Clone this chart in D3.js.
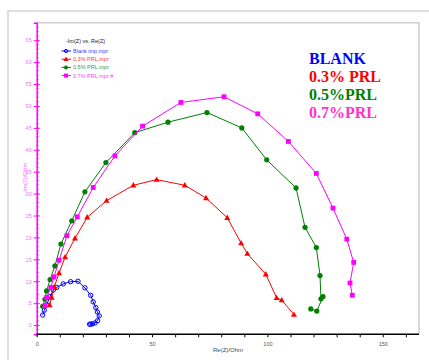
<!DOCTYPE html>
<html><head><meta charset="utf-8">
<script src="https://cdn.jsdelivr.net/npm/d3@7"></script>
<style>body{margin:0;background:#fff}svg{display:block}</style>
</head><body>
<script>
const blankX = [2.6,3.3,4.3,5.8,7.2,8.7,11.5,14.7,17.9,20.9,23.4,24.5,25.6,26.3,27.1,26.4,25.3,24.2,23.4,22.9];
const blankY = [2.3,3.4,4.6,6.5,8.0,8.6,9.4,9.9,10.0,8.5,6.8,5.3,4.0,3.0,2.1,1.0,0.5,0.3,0.2,0.2];
const prl3X = [5.6,6.5,7.6,9.7,12.3,16.6,21.9,30.3,41.9,52.0,64.2,73.4,82.6,88.6,91.3,99.3,104.0,106.2,111.5];
const prl3Y = [4.6,6.3,8.7,11.9,15.5,19.8,24.6,28.4,31.9,33.2,31.9,29.0,24.5,18.7,16.3,11.6,6.2,5.7,2.4];
const prl5X = [2.6,3.6,4.3,5.8,7.9,10.5,15.2,20.9,30.0,42.5,56.9,73.8,88.9,99.7,112.4,116.3,121.2,122.8,123.2,124.1,121.4,118.8];
const prl5Y = [4.3,5.9,7.8,10.4,13.5,18.5,23.8,30.4,37.1,43.9,46.3,48.5,45.0,37.7,31.3,22.3,17.7,11.3,6.0,6.5,3.2,3.7];
const prl7X = [3.6,4.3,6.1,7.5,9.7,13.1,17.6,24.5,33.9,45.9,62.5,81.2,95.8,109.1,121.2,128.4,134.4,137.4,135.8,136.8];
const prl7Y = [4.4,6.3,8.6,11.0,14.8,20.4,24.7,31.4,38.6,45.4,50.8,52.1,48.2,41.9,34.6,26.7,19.6,14.3,9.6,6.8];
const seriesNames = ["Blank imp.mpr","0.3% PRL.mpr","0.5% PRL.mpr","0.7% PRL.mpr #"];
const bigLabels = ["BLANK","0.3% PRL","0.5%PRL","0.7%PRL"];
const xTickLabels = [0,50,100,150];
const yTickLabels = [0,5,10,15,20,25,30,35,40,45,50,55,60,65];

const W=429,H=360;
const svg=d3.select("body").append("svg").attr("width",W).attr("height",H);
// outer frame
svg.append("path").attr("d","M8,360 V11 H429").attr("fill","none").attr("stroke","#d4d4d4").attr("stroke-width",1.5);
const L=36.7,R=419,T=22.7,B=334.3;
svg.append("path").attr("d",`M${L},${T} H${R} V${B}`).attr("fill","none").attr("stroke","#cfcfcf").attr("stroke-width",1.5);

const x=d3.scaleLinear().domain([0,165.7]).range([L,R]);
const y=d3.scaleLinear().domain([-2.1,69]).range([B,T]);

// y axis (magenta)
const mag="#ff00ff";
const yMinor=d3.range(-2,69,1);
svg.append("g").selectAll("line").data(yMinor).join("line")
  .attr("x1",L).attr("x2",L+2).attr("y1",d=>y(d)).attr("y2",d=>y(d))
  .attr("stroke",mag).attr("stroke-width",0.8);
const yAx=svg.append("g").attr("transform",`translate(${L},0)`)
  .call(d3.axisLeft(y).tickValues(yTickLabels).tickSize(3).tickPadding(2).tickFormat(d3.format("d")));
yAx.select(".domain").attr("stroke",mag).attr("stroke-width",1.5);
yAx.selectAll(".tick line").attr("stroke",mag).attr("x2",-3).attr("x1",3);
yAx.selectAll("text").attr("fill","#ff66ff").attr("font-size",5.5).attr("font-family","Liberation Sans, Arial, sans-serif");

// x axis
const xAx=svg.append("g").attr("transform",`translate(0,${B})`)
  .call(d3.axisBottom(x).tickValues(d3.range(0,161,10)).tickSize(3).tickPadding(5)
    .tickFormat(d=>xTickLabels.includes(d)?d:""));
xAx.select(".domain").attr("stroke","#000").attr("stroke-width",1.5).attr("d",`M${L},0H${R}`);
xAx.selectAll(".tick line").attr("stroke","#000");
xAx.selectAll("text").attr("fill","#555").attr("font-size",5.5).attr("font-family","Liberation Sans, Arial, sans-serif");

// axis labels
svg.append("text").attr("x",228).attr("y",352).attr("text-anchor","middle")
  .attr("font-size",6).attr("font-family","Liberation Sans, Arial, sans-serif").attr("fill","#444").text("Re(Z)/Ohm");
svg.append("text").attr("transform","translate(27,179) rotate(-90)").attr("text-anchor","middle")
  .attr("font-size",6).attr("font-family","Liberation Sans, Arial, sans-serif").attr("fill","#ff66ff").text("- Im(Z)/Ohm");

const line=d3.line().x(d=>x(d[0])).y(d=>y(d[1]));
const series=[
  {xs:blankX,ys:blankY,c:"#0000ff",m:"ocircle"},
  {xs:prl3X,ys:prl3Y,c:"#ff0000",m:"tri"},
  {xs:prl5X,ys:prl5Y,c:"#008000",m:"circle"},
  {xs:prl7X,ys:prl7Y,c:"#ff00ff",m:"square"},
];
function marker(g,m,c,px,py){
  if(m==="ocircle") g.append("circle").attr("cx",px).attr("cy",py).attr("r",2.2).attr("fill","none").attr("stroke",c).attr("stroke-width",1);
  else if(m==="circle") g.append("circle").attr("cx",px).attr("cy",py).attr("r",2.6).attr("fill",c);
  else if(m==="square") g.append("rect").attr("x",px-2.4).attr("y",py-2.4).attr("width",4.8).attr("height",4.8).attr("fill",c);
  else g.append("path").attr("d",`M${px},${py-3.2}L${px+3},${py+2.2}L${px-3},${py+2.2}Z`).attr("fill",c);
}
series.forEach(s=>{
  const pts=s.xs.map((v,i)=>[v,s.ys[i]]);
  const g=svg.append("g");
  g.append("path").attr("d",line(pts)).attr("fill","none").attr("stroke",s.c).attr("stroke-width",1);
  pts.forEach(p=>marker(g,s.m,s.c,x(p[0]),y(p[1])));
});

// small legend
const lg=svg.append("g").attr("font-family","Liberation Sans, Arial, sans-serif");
lg.append("text").attr("x",66).attr("y",43).attr("font-size",5.5).attr("fill","#222").text("-Im(Z) vs. Re(Z)");
series.forEach((s,i)=>{
  const yy=51+i*8.2;
  lg.append("line").attr("x1",61.5).attr("x2",71).attr("y1",yy).attr("y2",yy).attr("stroke",s.c).attr("stroke-width",1);
  const gm=lg.append("g");
  if(s.m==="ocircle") gm.append("circle").attr("cx",66).attr("cy",yy).attr("r",1.6).attr("fill","none").attr("stroke",s.c);
  else if(s.m==="circle") gm.append("circle").attr("cx",66).attr("cy",yy).attr("r",2).attr("fill",s.c);
  else if(s.m==="square") gm.append("rect").attr("x",64).attr("y",yy-2).attr("width",4).attr("height",4).attr("fill",s.c);
  else gm.append("path").attr("d",`M66,${yy-2.6}L68.5,${yy+1.8}L63.5,${yy+1.8}Z`).attr("fill",s.c);
  lg.append("text").attr("x",73).attr("y",yy+2).attr("font-size",5.5).attr("fill",s.c).attr("opacity",0.8).text(seriesNames[i]);
});

// big labels
const bigColors=["#0000ff","#ff0000","#008000","#ff33cc"];
bigLabels.forEach((t,i)=>{
  svg.append("text").attr("x",309).attr("y",64+i*18).attr("font-family","Liberation Serif, Times New Roman, serif")
    .attr("font-weight","bold").attr("font-size",16).attr("fill",bigColors[i]).text(t);
});
</script>
</body></html>
